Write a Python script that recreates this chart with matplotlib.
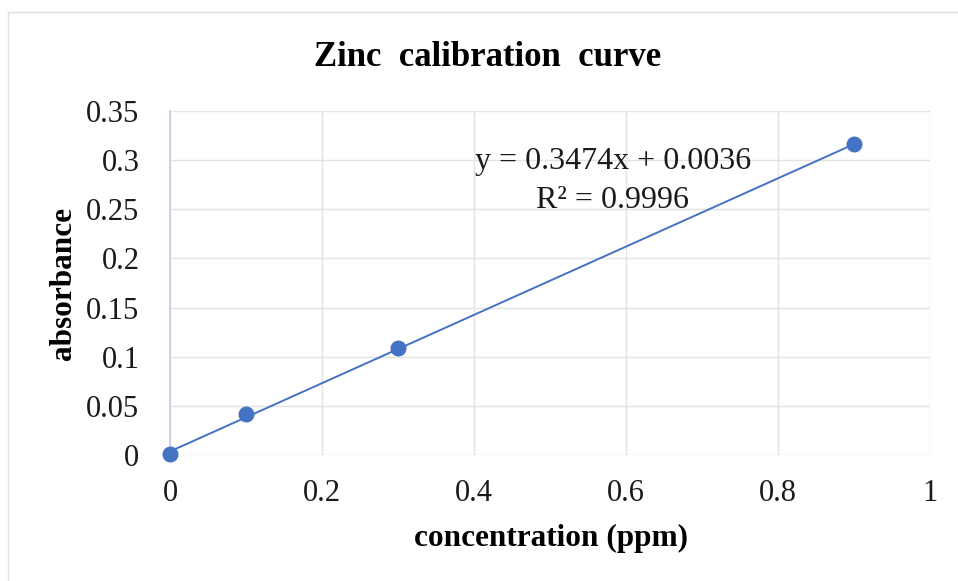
import matplotlib
matplotlib.use("Agg")
import matplotlib.pyplot as plt
import numpy as np
from matplotlib.lines import Line2D

concentration = [0.0, 0.1, 0.3, 0.9]
absorbance = [0.001, 0.042, 0.109, 0.316]
slope = 0.3474
intercept = 0.0036
r_squared = 0.9996
x_ticks = [0, 0.2, 0.4, 0.6, 0.8, 1]
x_tick_labels = ["0", "0.2", "0.4", "0.6", "0.8", "1"]
y_ticks = [0, 0.05, 0.1, 0.15, 0.2, 0.25, 0.3, 0.35]
y_tick_labels = ["0", "0.05", "0.1", "0.15", "0.2", "0.25", "0.3", "0.35"]

plt.rcParams['font.family'] = ['Liberation Serif', 'DejaVu Serif']

fig = plt.figure(figsize=(9.58, 5.81), dpi=100)
ax = fig.add_axes([170/958, 1-455/581, (930-170)/958, (455-111)/581])

blue = "#4472C4"
fx = np.array([min(concentration), max(concentration)])
ax.plot(fx, slope*fx + intercept, color=blue, lw=1.4, zorder=3)
ax.plot(concentration, absorbance, 'o', color=blue, ms=10.5, zorder=4, clip_on=False)

ax.set_xlim(0, 1)
ax.set_ylim(0, 0.35)
ax.set_xticks(x_ticks)
ax.set_xticklabels(x_tick_labels)
ax.set_yticks(y_ticks)
ax.set_yticklabels(y_tick_labels)
ax.tick_params(length=0, labelsize=22, colors="#1a1a1a")
ax.tick_params(axis='y', pad=22)
ax.tick_params(axis='x', pad=17)
ax.grid(True, color="#e3e3e3", lw=1.0)
ax.set_axisbelow(True)
for s in ['top', 'right', 'bottom']:
    ax.spines[s].set_visible(False)
ax.spines['left'].set_color("#c5cde0")
ax.spines['left'].set_linewidth(1.2)

fig.text(613/958, 1-162/581, f"y = {slope}x + {intercept}", ha='center', va='center', fontsize=23, color="#1a1a1a")
fig.text(613/958, 1-200/581, f"R² = {r_squared}", ha='center', va='center', fontsize=23, color="#1a1a1a")

fig.text(488/958, 1-57/581, "Zinc  calibration  curve", ha='center', va='center', fontsize=25, fontweight='bold')
fig.text(551/958, 1-538/581, "concentration (ppm)", ha='center', va='center', fontsize=22.5, fontweight='bold')
fig.text(63/958, 1-284/581, "absorbance", ha='center', va='center', fontsize=22.5, fontweight='bold', rotation=90)

fig.add_artist(Line2D([8/958, 1], [1-12/581, 1-12/581], color="#e0e0e0", lw=1, transform=fig.transFigure))
fig.add_artist(Line2D([8/958, 8/958], [0, 1-12/581], color="#e0e0e0", lw=1, transform=fig.transFigure))

fig.savefig("out.png", dpi=100)
